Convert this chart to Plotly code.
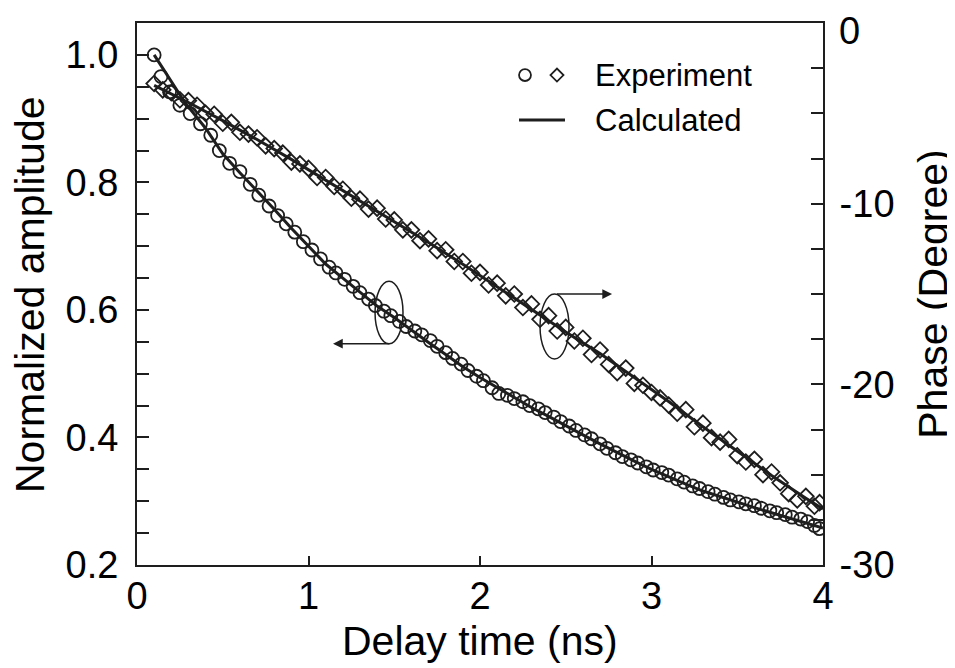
import plotly.graph_objects as go

# ---------------- data ----------------
amp_time = [0.10, 0.14, 0.19, 0.25, 0.31, 0.37, 0.43, 0.48, 0.54, 0.60, 0.66, 0.71, 0.77, 0.82,
            0.87, 0.92, 0.97, 1.02, 1.07, 1.12, 1.16, 1.21, 1.26, 1.30, 1.35, 1.39, 1.44, 1.48,
            1.53, 1.57, 1.62, 1.66, 1.71, 1.75, 1.80, 1.84, 1.89, 1.93, 1.98, 2.02, 2.07, 2.11,
            2.16, 2.20, 2.25, 2.29, 2.34, 2.38, 2.43, 2.47, 2.52, 2.56, 2.61, 2.65, 2.70, 2.74,
            2.79, 2.83, 2.88, 2.92, 2.97, 3.01, 3.06, 3.10, 3.15, 3.19, 3.24, 3.28, 3.33, 3.37,
            3.42, 3.46, 3.51, 3.55, 3.60, 3.64, 3.69, 3.73, 3.78, 3.82, 3.87, 3.91, 3.95, 3.98]
amp_exp = [1.000, 0.966, 0.942, 0.921, 0.908, 0.892, 0.874, 0.850, 0.830, 0.817, 0.797, 0.780,
           0.763, 0.748, 0.735, 0.722, 0.707, 0.694, 0.680, 0.667, 0.658, 0.648, 0.637, 0.627,
           0.617, 0.607, 0.598, 0.591, 0.582, 0.574, 0.567, 0.561, 0.552, 0.543, 0.533, 0.524,
           0.515, 0.505, 0.496, 0.489, 0.478, 0.469, 0.466, 0.461, 0.456, 0.450, 0.445, 0.439,
           0.432, 0.425, 0.418, 0.411, 0.404, 0.398, 0.390, 0.383, 0.376, 0.370, 0.365, 0.360,
           0.354, 0.349, 0.345, 0.341, 0.335, 0.330, 0.324, 0.320, 0.315, 0.311, 0.306, 0.302,
           0.299, 0.296, 0.293, 0.289, 0.285, 0.282, 0.279, 0.275, 0.272, 0.268, 0.262, 0.257]

amp_calc_time = [0.10, 0.28, 0.40, 0.50, 0.60, 0.70, 0.80, 0.90, 1.00, 1.10, 1.20, 1.30, 1.40,
                 1.50, 1.60, 1.70, 1.80, 1.90, 2.00, 2.10, 2.20, 2.30, 2.40, 2.50, 2.60, 2.70,
                 2.80, 2.90, 3.00, 3.10, 3.20, 3.30, 3.40, 3.50, 3.60, 3.70, 3.80, 3.90, 4.00]
amp_calc = [1.000, 0.925, 0.885, 0.845, 0.815, 0.787, 0.758, 0.728, 0.700, 0.672, 0.650, 0.628,
            0.606, 0.588, 0.568, 0.549, 0.530, 0.511, 0.494, 0.478, 0.462, 0.447, 0.433, 0.418,
            0.404, 0.390, 0.376, 0.363, 0.350, 0.338, 0.327, 0.316, 0.307, 0.298, 0.290, 0.282,
            0.274, 0.266, 0.258]

phase_time = [0.10, 0.15, 0.20, 0.25, 0.30, 0.35, 0.40, 0.45, 0.50, 0.55, 0.60, 0.65, 0.70, 0.75,
              0.80, 0.85, 0.90, 0.95, 1.00, 1.05, 1.10, 1.15, 1.20, 1.25, 1.30, 1.35, 1.40, 1.45,
              1.50, 1.55, 1.60, 1.65, 1.70, 1.75, 1.80, 1.85, 1.90, 1.95, 2.00, 2.05, 2.10, 2.15,
              2.20, 2.25, 2.30, 2.35, 2.40, 2.45, 2.50, 2.55, 2.60, 2.65, 2.70, 2.75, 2.80, 2.85,
              2.90, 2.95, 3.00, 3.05, 3.10, 3.15, 3.20, 3.25, 3.30, 3.35, 3.40, 3.45, 3.50, 3.55,
              3.60, 3.65, 3.70, 3.75, 3.80, 3.85, 3.90, 3.95, 3.98]
phase_exp = [-3.35, -3.70, -3.85, -4.25, -4.30, -4.55, -5.00, -5.05, -5.55, -5.50, -6.05, -6.15,
             -6.35, -6.80, -6.95, -7.20, -7.70, -7.80, -8.05, -8.55, -8.55, -9.05, -9.20, -9.70,
             -9.75, -10.30, -10.25, -10.85, -10.90, -11.45, -11.45, -12.05, -11.95, -12.60,
             -12.55, -13.20, -13.20, -13.85, -13.80, -14.50, -14.40, -15.10, -15.00, -15.75,
             -15.55, -16.40, -16.20, -17.05, -16.85, -17.60, -17.45, -18.35, -18.10, -18.90,
             -19.35, -19.10, -19.95, -20.05, -20.45, -20.75, -21.15, -21.60, -21.40, -22.35,
             -22.15, -22.95, -23.20, -23.05, -23.95, -24.30, -24.15, -25.00, -24.85, -25.45,
             -26.05, -26.40, -26.20, -26.75, -26.55]

phase_calc_time = [0.10, 0.30, 0.50, 0.70, 0.90, 1.10, 1.30, 1.50, 1.70, 1.90, 2.10, 2.30, 2.50,
                   2.70, 2.90, 3.10, 3.30, 3.50, 3.70, 3.90, 4.00]
phase_calc = [-3.45, -4.40, -5.40, -6.45, -7.55, -8.70, -9.85, -11.00, -12.15, -13.35, -14.60,
              -15.85, -17.10, -18.30, -19.60, -20.95, -22.35, -23.70, -25.05, -26.30, -26.90]

x_ticks = [0, 1, 2, 3, 4]
amp_ticks = [0.2, 0.4, 0.6, 0.8, 1.0]
amp_ticklabels = ["0.2", "0.4", "0.6", "0.8", "1.0"]
phase_ticks = [-30, -20, -10]
phase_ticklabels = ["-30", "-20", "-10"]
phase_top_label = "0"   # top label of the phase axis, set just below the frame corner

# ---------------- style ----------------
INK = "#1e1e1e"
FONT = "Liberation Sans, Arial, Helvetica, sans-serif"
TICK_SIZE = 38
TITLE_SIZE = 41
LEG_SIZE = 31

fig = go.Figure()
fig.add_trace(go.Scatter(x=amp_time, y=amp_exp, mode="markers", yaxis="y",
                         marker=dict(symbol="circle-open", size=13, color=INK,
                                     line=dict(width=1.8, color=INK)),
                         showlegend=False))
fig.add_trace(go.Scatter(x=phase_time, y=phase_exp, mode="markers", yaxis="y2",
                         marker=dict(symbol="diamond-open", size=12, color=INK,
                                     line=dict(width=1.8, color=INK)),
                         showlegend=False))
fig.add_trace(go.Scatter(x=amp_calc_time, y=amp_calc, mode="lines", yaxis="y",
                         line=dict(color=INK, width=3), showlegend=False))
fig.add_trace(go.Scatter(x=phase_calc_time, y=phase_calc, mode="lines", yaxis="y2",
                         line=dict(color=INK, width=3), showlegend=False))

axis_common = dict(showline=True, linecolor=INK, linewidth=2, ticks="inside",
                   tickcolor=INK, tickwidth=2, showgrid=False, zeroline=False,
                   automargin=False, ticklabeloverflow="allow",
                   tickfont=dict(family=FONT, size=TICK_SIZE, color="black"))

# the page body adds an 8 px margin, so the figure is sized to fit the window
fig.update_layout(
    width=947, height=660,
    margin=dict(l=129, r=132, t=15, b=103, autoexpand=False),
    paper_bgcolor="white", plot_bgcolor="white",
    showlegend=False,
    xaxis=dict(range=[0, 4], tickvals=x_ticks, ticklen=9, mirror=True,
               ticklabelstandoff=-4, **axis_common),
    yaxis=dict(range=[0.2, 1.05], tickvals=amp_ticks, ticktext=amp_ticklabels,
               ticklen=12, ticklabelstandoff=9,
               minor=dict(dtick=0.05, tick0=0.2, ticks="inside", ticklen=12,
                          tickwidth=2, tickcolor=INK),
               **axis_common),
    yaxis2=dict(range=[-30, 0], overlaying="y", side="right", tickvals=phase_ticks,
                ticktext=phase_ticklabels, ticklen=12, ticklabelstandoff=7,
                minor=dict(dtick=2.5, tick0=0, ticks="inside", ticklen=12,
                           tickwidth=2, tickcolor=INK),
                **axis_common),
)

fig.add_annotation(text=phase_top_label, xref="paper", yref="paper", x=1.020, y=1.0277,
                   showarrow=False, xanchor="left", yanchor="top",
                   font=dict(family=FONT, size=TICK_SIZE, color="black"))

# ellipses marking the curves
fig.add_shape(type="circle", xref="x", yref="y", x0=1.388, x1=1.551, y0=0.547, y1=0.645,
              line=dict(color=INK, width=1.5))
fig.add_shape(type="circle", xref="x", yref="y", x0=2.350, x1=2.519, y0=0.523, y1=0.625,
              line=dict(color=INK, width=1.5))
# arrows pointing to the proper axes
fig.add_annotation(x=1.143, y=0.547, ax=1.48, ay=0.547, xref="x", yref="y",
                   axref="x", ayref="y", text="", showarrow=True, arrowhead=2,
                   arrowsize=1.3, arrowwidth=1.5, arrowcolor=INK, standoff=0)
fig.add_annotation(x=2.770, y=0.625, ax=2.44, ay=0.625, xref="x", yref="y",
                   axref="x", ayref="y", text="", showarrow=True, arrowhead=2,
                   arrowsize=1.3, arrowwidth=1.5, arrowcolor=INK, standoff=0)

# axis titles
fig.add_annotation(text="Delay time (ns)", xref="paper", yref="paper", x=0.5, y=-0.14,
                   showarrow=False, xanchor="center", yanchor="middle",
                   font=dict(family=FONT, size=TITLE_SIZE, color="black"))
fig.add_annotation(text="Normalized amplitude", xref="paper", yref="paper", x=-0.156, y=0.5,
                   showarrow=False, textangle=-90, xanchor="center", yanchor="middle",
                   font=dict(family=FONT, size=TITLE_SIZE, color="black"))
fig.add_annotation(text="Phase (Degree)", xref="paper", yref="paper", x=1.160, y=0.5,
                   showarrow=False, textangle=-90, xanchor="center", yanchor="middle",
                   font=dict(family=FONT, size=TITLE_SIZE, color="black"))

# legend (drawn by hand: one entry carries two symbols)
fig.add_shape(type="circle", xref="paper", yref="paper", x0=0.5569, x1=0.5743,
              y0=0.893, y1=0.915, line=dict(color=INK, width=1.8))
fig.add_shape(type="path", xref="paper", yref="paper",
              path="M 0.6027 0.904 L 0.6122 0.916 L 0.6217 0.904 L 0.6122 0.892 Z",
              line=dict(color=INK, width=1.8))
fig.add_annotation(text="Experiment", xref="paper", yref="paper", x=0.6647, y=0.904,
                   showarrow=False, xanchor="left", yanchor="middle",
                   font=dict(family=FONT, size=LEG_SIZE, color="black"))
fig.add_shape(type="line", xref="paper", yref="paper", x0=0.5569, x1=0.6239, y0=0.821,
              y1=0.821, line=dict(color=INK, width=3))
fig.add_annotation(text="Calculated", xref="paper", yref="paper", x=0.6647, y=0.821,
                   showarrow=False, xanchor="left", yanchor="middle",
                   font=dict(family=FONT, size=LEG_SIZE, color="black"))

fig.write_html("out.html")
